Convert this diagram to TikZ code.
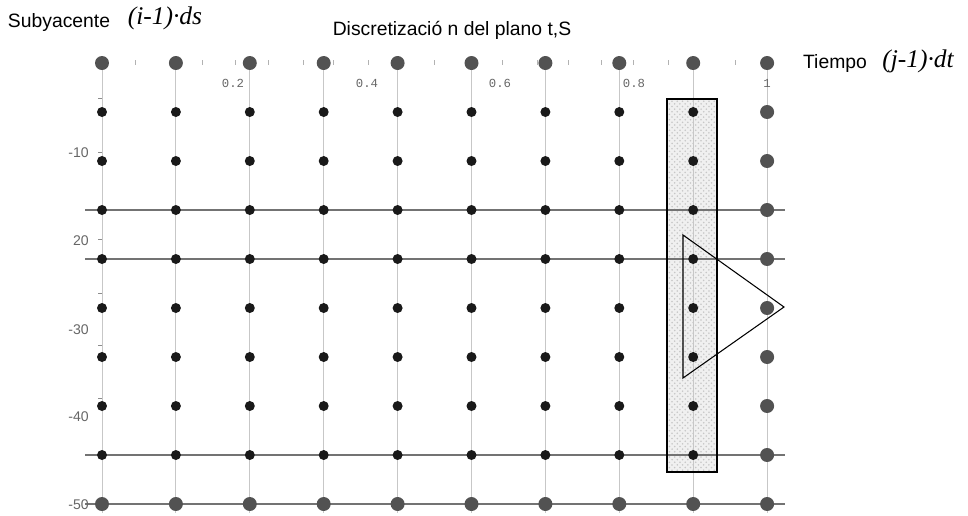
\documentclass[tikz,border=0pt]{standalone}
\usepackage{fontspec}
\setmainfont{Liberation Sans}
\newfontfamily\timesfont{Liberation Serif}
\newfontfamily\monofont{Liberation Mono}
\usetikzlibrary{patterns}

\begin{document}
\begin{tikzpicture}[x=0.02cm, y=-0.02cm,
	every node/.style={inner sep=0pt},
	word/.style={font=\fontsize{11}{13}\selectfont},
	formula/.style={font=\timesfont\itshape\fontsize{14.5}{16}\selectfont},
	toplbl/.style={font=\monofont\fontsize{7}{8}\selectfont, text=black!60},
	sidelbl/.style={font=\fontsize{8}{9}\selectfont, text=black!60}]
	\useasboundingbox (0,0) rectangle (968,515);
	% strip of the time step
	\fill[black!6] (667,99) rectangle (717,472);
	\fill[pattern=crosshatch dots, pattern color=black!22] (667,99) rectangle (717,472);
	% grid lines
	\foreach \i in {0,...,9}
		\draw[black!22, line width=0.5pt] ({102+73.9*\i},63) -- ({102+73.9*\i},513);
	\foreach \j in {3,4,8,9}
		\draw[black!55, line width=0.6pt] (85,{63+49*\j}) -- (785,{63+49*\j});
	% axis ticks
	\foreach \x in {135,202,235,268,303,333,368,434,502,537,568,601,633,668,735}
		\draw[black!30, line width=0.4pt] (\x,60) -- (\x,65);
	\foreach \y in {98,152,239,293,345,398}
		\draw[black!45, line width=0.4pt] (98,\y) -- (102,\y);
	\draw[line width=0.8pt] (667,99) rectangle (717,472);
	% inner nodes
	\foreach \i in {0,...,8}
		\foreach \j in {1,...,8}
			\fill[black!90] ({102+73.9*\i},{63+49*\j}) circle (0.1cm);
	% boundary nodes
	\foreach \i in {0,...,9} {
		\fill[black!68] ({102+73.9*\i},63) circle (0.14cm);
		\fill[black!68] ({102+73.9*\i},504) circle (0.14cm);
	}
	\foreach \j in {1,...,8}
		\fill[black!68] (767.1,{63+49*\j}) circle (0.14cm);
	\draw[line width=0.6pt] (683,235) -- (784,307) -- (683,378) -- cycle;
	% labels
	\node[word] (subyacente) at (59,22) {Subyacente};
	\node[formula] (ds) at (165,18) {(i-1)·ds};
	\node[word] (titulo) at (452,30) {Discretizació n del plano t,S};
	\node[word] (tiempo) at (835,63) {Tiempo};
	\node[formula] (dt) at (918,61) {(j-1)·dt};
	\foreach \x/\t/\n in {233/0.2/a,367/0.4/b,500/0.6/c,634/0.8/d,767/1/e}
		\node[toplbl] (t\n) at (\x,83) {\t};
	\foreach \y/\t/\n in {153/-10/a,241/20/b,330/-30/c,417/-40/d,505/-50/e}
		\node[sidelbl, anchor=east] (s\n) at (89,\y) {\t};
\end{tikzpicture}
\end{document}
